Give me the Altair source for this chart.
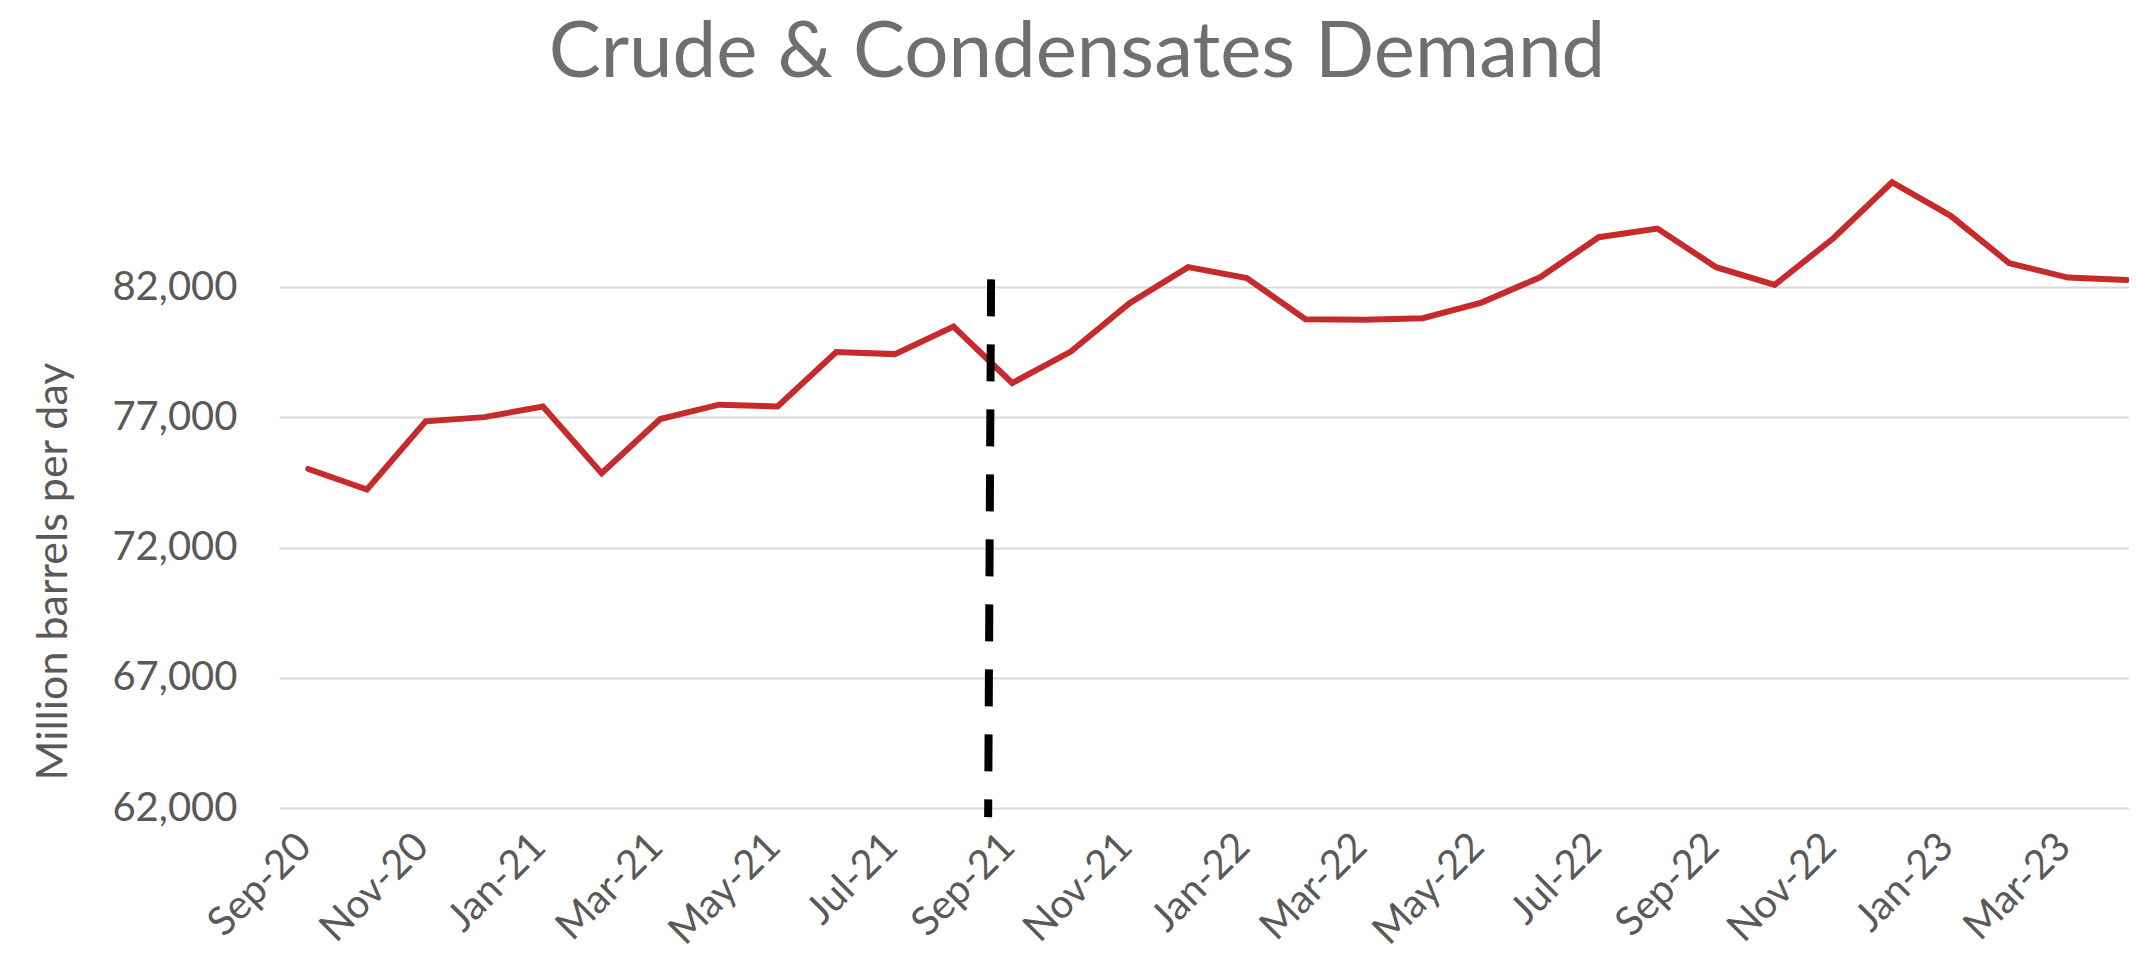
import altair as alt
import pandas as pd

months = ["Sep-20", "Oct-20", "Nov-20", "Dec-20", "Jan-21", "Feb-21", "Mar-21", "Apr-21",
          "May-21", "Jun-21", "Jul-21", "Aug-21", "Sep-21", "Oct-21", "Nov-21", "Dec-21",
          "Jan-22", "Feb-22", "Mar-22", "Apr-22", "May-22", "Jun-22", "Jul-22", "Aug-22",
          "Sep-22", "Oct-22", "Nov-22", "Dec-22", "Jan-23", "Feb-23", "Mar-23", "Apr-23"]
demand = [75020, 74230, 76850, 77010, 77420, 74860, 76940, 77490,
          77420, 79510, 79430, 80490, 78320, 79530, 81390, 82770,
          82350, 80770, 80750, 80810, 81410, 82380, 83920, 84250,
          82770, 82090, 83880, 86030, 84740, 82920, 82370, 82280]
y_ticks = [62000, 67000, 72000, 77000, 82000]
x_tick_idx = list(range(0, 32, 2))
chart_title = ["Crude & Condensates Demand"]

# dashed divider (hand-drawn in the original, slightly tilted)
marker_x_top, marker_x_bottom = 11.64, 11.59
marker_y_top, marker_y_bottom = 82300, 61650

df = pd.DataFrame({"idx": list(range(len(months))), "month": months, "demand": demand})
marker = pd.DataFrame({"x": [marker_x_top], "x2": [marker_x_bottom],
                       "y": [marker_y_top], "y2": [marker_y_bottom]})
title_df = pd.DataFrame({"t": chart_title})

label_expr = "[" + ",".join("'%s'" % m for m in months) + "][datum.value]"

FONT = "Lato"
GREY = "#595959"

x_scale = alt.Scale(domain=[-0.5, 31.04], nice=False, zero=False)
y_scale = alt.Scale(domain=[62000, 87000], nice=False, zero=False)

line = alt.Chart(df).mark_line(color="#c62a2a", strokeWidth=6, strokeCap="round",
                               strokeJoin="miter").encode(
    x=alt.X("idx:Q", scale=x_scale,
            axis=alt.Axis(values=x_tick_idx, labelExpr=label_expr, title=None,
                          grid=False, domain=False, ticks=False,
                          labelAngle=315, labelAlign="right", labelBaseline="middle",
                          labelPadding=32, labelOffset=-4,
                          labelFont=FONT, labelFontSize=40, labelColor=GREY,
                          labelOverlap=False, labelFlush=False)),
    y=alt.Y("demand:Q", scale=y_scale,
            axis=alt.Axis(values=y_ticks, format=",d", title="Million barrels per day",
                          grid=True, gridColor="#d9d9d9", gridWidth=2,
                          domain=False, ticks=False, labelPadding=42,
                          labelFont=FONT, labelFontSize=40, labelColor=GREY,
                          titleFont=FONT, titleFontSize=43, titleColor=GREY,
                          titleFontWeight="normal", titleAngle=270,
                          titleAlign="center", titleBaseline="middle",
                          titleX=-226, titleY=414)),
)

rule = alt.Chart(marker).mark_rule(color="black", strokeWidth=8, strokeDash=[37, 28],
                                   strokeCap="butt").encode(
    x="x:Q", x2="x2:Q", y="y:Q", y2="y2:Q")

title = alt.Chart(title_df).mark_text(font=FONT, fontSize=78, color="#6f6f6f",
                                      align="center", baseline="alphabetic").encode(
    text="t:N", x=alt.value(798), y=alt.value(-80))

chart = alt.layer(line, rule, title).properties(
    width=1850, height=651,
    padding={"left": 271, "top": 149, "right": 0, "bottom": 146},
    autosize=alt.AutoSizeParams(type="none"),
    background="white",
).configure_view(stroke=None, strokeWidth=0)

chart.save("out.html", embed_options={"renderer": "svg", "actions": False})
